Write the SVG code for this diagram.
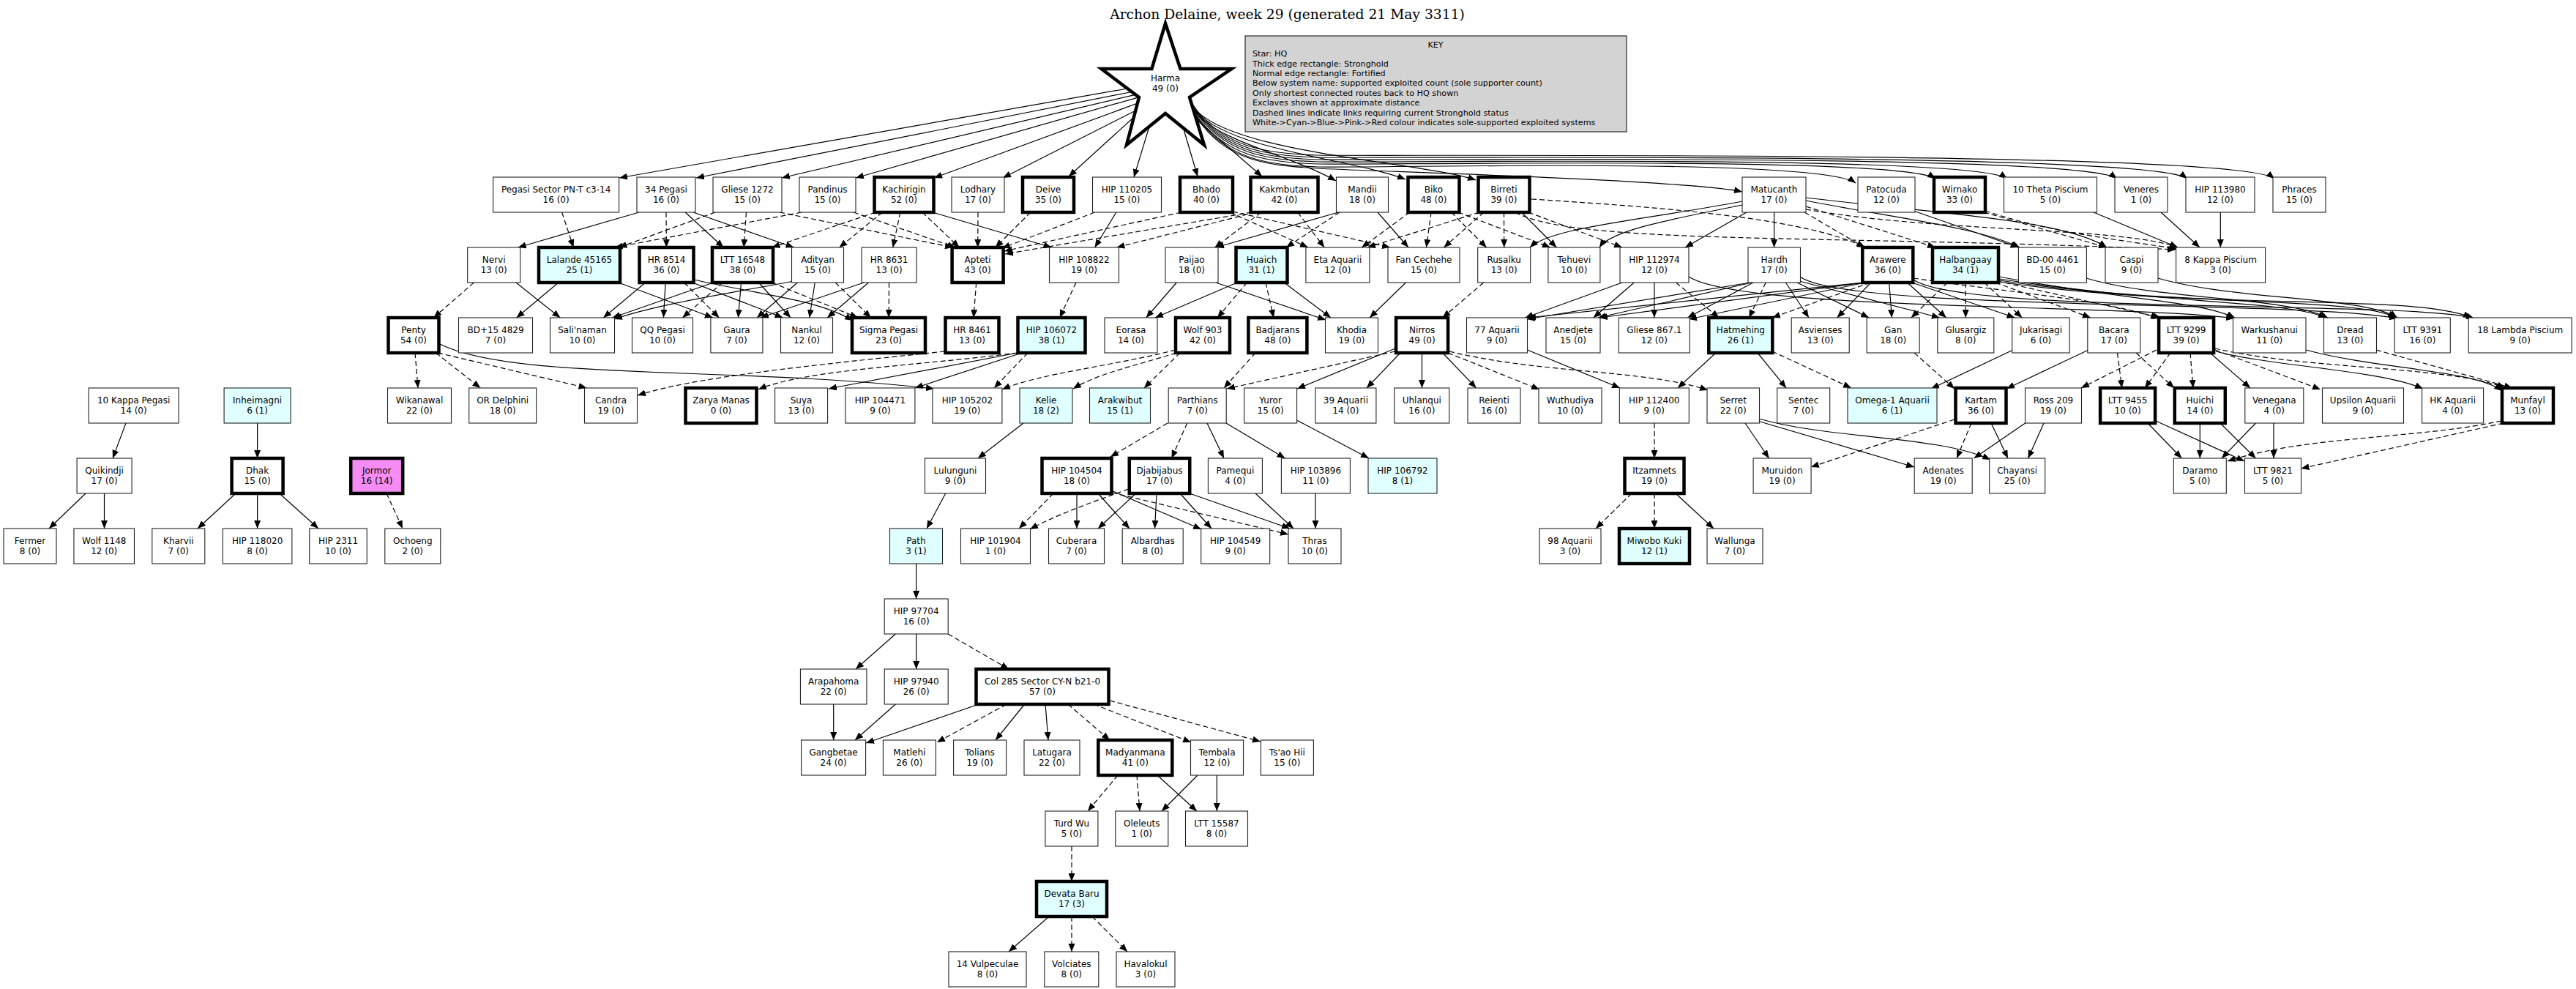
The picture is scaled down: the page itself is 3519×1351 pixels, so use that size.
<svg xmlns="http://www.w3.org/2000/svg" width="3519" height="1351" viewBox="0 0 3519 1351">
<style>
text{font-family:"DejaVu Sans","Liberation Sans",sans-serif;font-size:12px;text-anchor:middle;fill:#000}
.title{font-family:"DejaVu Serif","Liberation Serif",serif;font-size:18.7px}
.key{font-size:11.2px;text-anchor:start}
.n{fill:#fff;stroke:#222;stroke-width:1.1}
.t{fill:#fff;stroke:#000;stroke-width:4.5}
.c{fill:#e0ffff}
.p{fill:#f48cf4}
.e{fill:none;stroke:#000;stroke-width:1.2;marker-end:url(#a)}
.d{stroke-dasharray:7,4}
</style>
<defs>
<marker id="a" markerWidth="11" markerHeight="9" refX="11" refY="4.5" orient="auto" markerUnits="userSpaceOnUse"><path d="M0,0L11,4.5L0,9z" fill="#000"/></marker>
</defs>
<rect width="3519" height="1351" fill="#fff"/>
<text class="title" x="1758.5" y="26">Archon Delaine, week 29 (generated 21 May 3311)</text>
<g id="key">
<rect x="1701" y="49" width="521" height="131" fill="#d3d3d3" stroke="#000" stroke-width="1"/>
<text x="1961" y="65" style="font-size:11.2px">KEY</text>
<text class="key" x="1711" y="77.3">Star: HQ</text>
<text class="key" x="1711" y="90.7">Thick edge rectangle: Stronghold</text>
<text class="key" x="1711" y="104">Normal edge rectangle: Fortified</text>
<text class="key" x="1711" y="117.3">Below system name: supported exploited count (sole supporter count)</text>
<text class="key" x="1711" y="130.7">Only shortest connected routes back to HQ shown</text>
<text class="key" x="1711" y="144.3">Exclaves shown at approximate distance</text>
<text class="key" x="1711" y="157.7">Dashed lines indicate links requiring current Stronghold status</text>
<text class="key" x="1711" y="170.7">White-&gt;Cyan-&gt;Blue-&gt;Pink-&gt;Red colour indicates sole-supported exploited systems</text>
</g>
<g id="connectors">
<path class="e" d="M1540,121L846,243"/>
<path class="e" d="M1546,125.5L951,243"/>
<path class="e" d="M1551,129.3L1068,243"/>
<path class="e" d="M1555.5,132.8L1169,243"/>
<path class="e" d="M1554,141L1276,243"/>
<path class="e" d="M1551.5,151L1370,243"/>
<path class="e" d="M1549,160L1460,241"/>
<path class="e" d="M1570,172.8L1549,242"/>
<path class="e" d="M1616.5,175L1636,241"/>
<path class="e" d="M1634,163L1724,241"/>
<path class="e" d="M1630,150C1665,195 1760,210 1825,247"/>
<path class="e" d="M1629,146C1670,205 1840,215 1920,245"/>
<path class="e" d="M1628,143C1670,210 1940,220 2016,246"/>
<path class="e" d="M1636,162C1676,222 1736,226 1800,230S2300,245 2380,262"/>
<path class="e" d="M1634,158C1674,218 1734,226 1800,228S2485,214 2535,250"/>
<path class="e" d="M1632,154C1672,214 1732,222 1800,224S2594,212 2644,244"/>
<path class="e" d="M1631,150C1671,210 1731,219 1800,221S2692,210 2742,244"/>
<path class="e" d="M1630,147C1670,207 1730,216 1800,218S2842,208 2892,244"/>
<path class="e" d="M1629,144C1669,204 1729,213 1800,215S2938,206 2988,244"/>
<path class="e" d="M1628,141C1668,201 1728,210 1800,212S3057,204 3107,244"/>
<path class="e d" d="M767.6,290L783.5,338"/>
<path class="e" d="M873,290L707.7,338"/>
<path class="e d" d="M910,290L910.4,338"/>
<path class="e" d="M936.1,290L988.4,338"/>
<path class="e" d="M947,290L1084.5,338"/>
<path class="e d" d="M977,290L845.5,338"/>
<path class="e d" d="M1019.4,290L1016.1,338"/>
<path class="e d" d="M1065,290L1302,338"/>
<path class="e d" d="M1095,290L840,338"/>
<path class="e d" d="M1166,290L1305,338"/>
<path class="e d" d="M1196,290L1054.5,338"/>
<path class="e d" d="M1205.5,290L1146.5,338"/>
<path class="e d" d="M1229.9,290L1219.7,338"/>
<path class="e d" d="M1260,290L1310.5,338"/>
<path class="e" d="M1274,290L1436.5,338"/>
<path class="e d" d="M1336,290L1335.7,338"/>
<path class="e d" d="M1407.9,290L1359.7,338"/>
<path class="e d" d="M1495.5,290L1369,339"/>
<path class="e" d="M1524.9,290L1495.6,338"/>
<path class="e d" d="M1613.5,290L1372,343"/>
<path class="e d" d="M1710,290L1373,347"/>
<path class="e d" d="M1715,290L1525.5,338"/>
<path class="e d" d="M1722.9,290L1659.6,338"/>
<path class="e d" d="M1772.7,290L1809.2,338"/>
<path class="e d" d="M1680,290L1786.9,338"/>
<path class="e d" d="M1684,289L1899,338"/>
<path class="e" d="M1828.5,290L1661,338"/>
<path class="e d" d="M1830,290L1757,338"/>
<path class="e" d="M1882,290L1924,338"/>
<path class="e d" d="M1925.7,290L1860.2,338"/>
<path class="e d" d="M1955.1,290L1948.4,338"/>
<path class="e d" d="M1982.5,290L2030.7,338"/>
<path class="e d" d="M1992,290L2117.9,338"/>
<path class="e d" d="M2021,290L1867.9,338"/>
<path class="e d" d="M2027.1,290L1972.4,338"/>
<path class="e d" d="M2054.5,290L2054.7,338"/>
<path class="e" d="M2078.5,290L2126.4,338"/>
<path class="e d" d="M2088,290L2216,338"/>
<path class="e d" d="M2092,272C2300,285 2470,300 2548,338"/>
<path class="e d" d="M2070,290C2150,335 2500,320 2972,341"/>
<path class="e" d="M2380,275C2250,300 2120,310 2090,338"/>
<path class="e" d="M2380,280C2280,300 2200,315 2185,338"/>
<path class="e" d="M2386,290L2302,338"/>
<path class="e" d="M2423.6,290L2423.6,338"/>
<path class="e d" d="M2465,290L2547,338"/>
<path class="e d" d="M2467,282L2644,338"/>
<path class="e" d="M2467,274C2600,300 2700,310 2759,338"/>
<path class="e" d="M2467,270C2650,292 2820,300 2878,338"/>
<path class="e d" d="M2467,286C2650,318 2900,310 2975,338"/>
<path class="e" d="M2614,288L2757.5,338"/>
<path class="e d" d="M2712,288C2800,318 2900,328 2974,340"/>
<path class="e d" d="M2710,290L2878,338"/>
<path class="e" d="M2860,290L2975,338"/>
<path class="e" d="M2952,290L3005,338"/>
<path class="e" d="M3033.3,290L3033.3,338"/>
<path class="e d" d="M647.3,386L592.4,434"/>
<path class="e" d="M704.9,386L765.3,434"/>
<path class="e" d="M762.9,386L705.6,434"/>
<path class="e" d="M845,386L973.9,434"/>
<path class="e" d="M881.75,386L824.25,434"/>
<path class="e" d="M909.1,386L906.4,434"/>
<path class="e d" d="M934.5,386L982.4,434"/>
<path class="e" d="M946,386L1069.5,434"/>
<path class="e" d="M948,382C1050,405 1120,410 1165,438"/>
<path class="e" d="M974.5,386L836.5,434"/>
<path class="e d" d="M987.1,386L932.4,434"/>
<path class="e" d="M1012.5,386L1008.4,434"/>
<path class="e" d="M1036.4,386L1080.1,434"/>
<path class="e d" d="M1054.5,386L1172,434"/>
<path class="e" d="M1084.5,384C1000,400 900,415 839,436"/>
<path class="e" d="M1089.35,386L1034.05,434"/>
<path class="e" d="M1113.25,386L1105.75,434"/>
<path class="e d" d="M1141.25,386L1189.75,434"/>
<path class="e" d="M1180.1,386L1038.9,434"/>
<path class="e" d="M1186.45,386L1130.15,434"/>
<path class="e d" d="M1214.5,386L1214.2,434"/>
<path class="e d" d="M1333.7,386L1329.9,434"/>
<path class="e d" d="M1469.9,386L1447.6,434"/>
<path class="e" d="M1607.25,386L1565.75,434"/>
<path class="e" d="M1661,386L1811,437"/>
<path class="e" d="M1690,386L1578,434"/>
<path class="e d" d="M1703.4,386L1663.1,434"/>
<path class="e d" d="M1729,386L1739.9,434"/>
<path class="e" d="M1754.25,386L1818,434"/>
<path class="e" d="M1920.4,386L1871.1,434"/>
<path class="e d" d="M2026.7,386L1970.6,434"/>
<path class="e" d="M2216,386L2083.5,434"/>
<path class="e" d="M2232.25,386L2176.75,434"/>
<path class="e" d="M2260,386L2259.8,434"/>
<path class="e d" d="M2289.45,386L2348.35,434"/>
<path class="e" d="M2391,386L2086,436"/>
<path class="e" d="M2393,386L2183,434"/>
<path class="e" d="M2395,386L2305.3,434"/>
<path class="e d" d="M2412.2,386L2389.3,434"/>
<path class="e" d="M2439.45,386L2470.95,434"/>
<path class="e" d="M2455,386L2553.2,434"/>
<path class="e" d="M2458,384L2649.8,434"/>
<path class="e" d="M2459,378C2520,425 3150,410 3275,435"/>
<path class="e" d="M2545,386L2087,434"/>
<path class="e" d="M2546,386L2185,434"/>
<path class="e" d="M2548,386L2307,436"/>
<path class="e d" d="M2555,386L2421,434"/>
<path class="e" d="M2555.8,386L2509.7,434"/>
<path class="e" d="M2580.7,386L2584.4,434"/>
<path class="e" d="M2605.4,386L2658.7,434"/>
<path class="e" d="M2612,386L2752.5,434"/>
<path class="e d" d="M2614,380C2750,400 2880,410 2949,435"/>
<path class="e" d="M2614,382C2680,430 3300,410 3380,435"/>
<path class="e d" d="M2660.3,386L2610.9,434"/>
<path class="e d" d="M2685,386L2685.3,434"/>
<path class="e d" d="M2710.75,386L2762.25,434"/>
<path class="e d" d="M2726,386L2856,434"/>
<path class="e d" d="M2729,384L2952,434"/>
<path class="e" d="M2731,378C2900,410 3000,410 3053,434"/>
<path class="e" d="M2731,381C2950,415 3120,410 3178,434"/>
<path class="e" d="M2731,383C2980,420 3220,405 3273,434"/>
<path class="e" d="M2731,385C3000,425 3300,400 3376,434"/>
<path class="e" d="M2850,380C2950,410 3120,405 3180,434"/>
<path class="e" d="M2948,380C3050,410 3230,405 3275,434"/>
<path class="e" d="M2307,378C2380,425 2900,415 3052,435"/>
<path class="e d" d="M567,482L571,530"/>
<path class="e d" d="M595.4,482L656.3,530"/>
<path class="e d" d="M598,482L801.5,530"/>
<path class="e" d="M601,470C700,520 1000,500 1276,531"/>
<path class="e d" d="M1291,480C1100,500 950,515 871,540"/>
<path class="e d" d="M1390,482C1250,500 1100,505 1036,532"/>
<path class="e" d="M1390,482L1132,531"/>
<path class="e" d="M1396,482L1250,530"/>
<path class="e d" d="M1404,482L1358,530"/>
<path class="e d" d="M1606,478C1520,500 1420,510 1369,532"/>
<path class="e d" d="M1607,482C1550,500 1500,510 1466,531"/>
<path class="e d" d="M1612,482L1563,530"/>
<path class="e d" d="M1715,482L1672,530"/>
<path class="e d" d="M1906,480L1676,531"/>
<path class="e" d="M1906,476L1772,531"/>
<path class="e" d="M1913,482L1867,530"/>
<path class="e" d="M1942.5,482L1942.5,530"/>
<path class="e" d="M1970.7,482L2016.6,530"/>
<path class="e d" d="M1978,482L2103,532"/>
<path class="e d" d="M1980,480C2100,510 2250,505 2333,533"/>
<path class="e" d="M2086.5,478L2213,530"/>
<path class="e" d="M2344,482L2292,530"/>
<path class="e" d="M2401,482L2440,530"/>
<path class="e d" d="M2421,480L2529,530"/>
<path class="e d" d="M2615,482L2670,531"/>
<path class="e" d="M2750,478L2638,531"/>
<path class="e" d="M2853,478L2741,531"/>
<path class="e d" d="M2892.5,482L2898.7,530"/>
<path class="e d" d="M2918,482L2970,530"/>
<path class="e d" d="M2946,478L2843,530"/>
<path class="e d" d="M2965,482L2930,530"/>
<path class="e d" d="M2992,482L2996,530"/>
<path class="e" d="M3019,482L3074,530"/>
<path class="e d" d="M3026,478L3170,532"/>
<path class="e" d="M3027,480C3100,500 3250,505 3310,531"/>
<path class="e d" d="M3026,476C3150,505 3350,500 3422,530"/>
<path class="e" d="M3150,478C3250,505 3380,505 3418,534"/>
<path class="e d" d="M3246,478L3432,530"/>
<path class="e" d="M1398,578L1336,626"/>
<path class="e d" d="M1595,578L1517,624"/>
<path class="e d" d="M1621.7,578L1600.5,626"/>
<path class="e" d="M1649,578L1672,626"/>
<path class="e" d="M1675,578L1755.5,626"/>
<path class="e" d="M1771.5,574L1870,626"/>
<path class="e d" d="M2260,578L2260,626"/>
<path class="e" d="M2384,578L2416.6,626"/>
<path class="e" d="M2401,575L2615,638"/>
<path class="e" d="M2403,572C2500,600 2650,595 2719,628"/>
<path class="e d" d="M2670,573L2474,638"/>
<path class="e d" d="M2693,578L2673,626"/>
<path class="e" d="M2720,578L2743,626"/>
<path class="e" d="M2766.6,578L2696.6,626"/>
<path class="e" d="M2792,578L2770.5,626"/>
<path class="e" d="M2934,578L2980.4,626"/>
<path class="e" d="M2945,575L3066,630"/>
<path class="e" d="M3005.3,578L3005.3,626"/>
<path class="e" d="M3033,578L3081.5,626"/>
<path class="e" d="M3081.5,578L3035,626"/>
<path class="e" d="M3106,578L3106,626"/>
<path class="e d" d="M3417,575C3300,600 3150,595 3043,630"/>
<path class="e d" d="M3420,578L3143.5,640"/>
<path class="e" d="M172,578L154,626"/>
<path class="e" d="M351.6,578L351.6,626"/>
<path class="e" d="M117,674L67,722"/>
<path class="e" d="M142.5,674L142.5,722"/>
<path class="e" d="M322,674L270,722"/>
<path class="e" d="M351.6,674L351.6,722"/>
<path class="e" d="M381.7,674L435,722"/>
<path class="e d" d="M528,674L550,722"/>
<path class="e" d="M1291.7,674L1266,722"/>
<path class="e d" d="M1439,674L1392,722"/>
<path class="e" d="M1471,674L1471,722"/>
<path class="e" d="M1500,674L1543,722"/>
<path class="e" d="M1518,670L1641,723"/>
<path class="e d" d="M1519,673L1760,730"/>
<path class="e d" d="M1542,668C1480,690 1440,705 1407,723"/>
<path class="e" d="M1551.7,674L1500,722"/>
<path class="e" d="M1580,674L1577.5,722"/>
<path class="e" d="M1612,674L1655,722"/>
<path class="e" d="M1625,674L1762,722"/>
<path class="e" d="M1715,674L1767,722"/>
<path class="e" d="M1797,674L1797,722"/>
<path class="e d" d="M2229,674L2180,722"/>
<path class="e d" d="M2260,674L2260,722"/>
<path class="e" d="M2289,674L2341,722"/>
<path class="e" d="M1251.6,770L1251.6,818"/>
<path class="e" d="M1223.4,866L1169,914"/>
<path class="e" d="M1251.7,866L1251.7,914"/>
<path class="e d" d="M1295,866L1378,914"/>
<path class="e" d="M1138.7,962L1138.7,1011"/>
<path class="e" d="M1223.4,962L1168,1011"/>
<path class="e" d="M1337,962L1183,1015"/>
<path class="e d" d="M1375,962L1280,1014"/>
<path class="e" d="M1399.6,962L1360,1011"/>
<path class="e" d="M1428,962L1432,1011"/>
<path class="e d" d="M1459,962L1516,1011"/>
<path class="e d" d="M1494,962L1627,1014"/>
<path class="e d" d="M1516,957L1722,1013"/>
<path class="e d" d="M1527,1059L1486,1108"/>
<path class="e d" d="M1553,1059L1557,1108"/>
<path class="e" d="M1581,1059L1635,1108"/>
<path class="e" d="M1636,1059L1587,1108"/>
<path class="e" d="M1662.3,1059L1662.3,1108"/>
<path class="e d" d="M1464,1156L1464,1204"/>
<path class="e" d="M1433,1252L1378,1300"/>
<path class="e d" d="M1464,1252L1464,1300"/>
<path class="e d" d="M1492,1252L1540,1300"/>
</g>
<g id="n-harma"><polygon points="1592,32 1612.5,94 1682.5,94 1625,133 1645,198 1592,155 1539,198 1556,133 1504.5,94 1573.4,94" fill="#fff" stroke="#000" stroke-width="4.5" stroke-linejoin="miter"/><text x="1592" y="111">Harma</text><text x="1592" y="125">49 (0)</text></g>
<g id="n-pegasi"><rect class="n" x="673.6" y="242" width="172" height="48"/><text x="759.6" y="262.5">Pegasi Sector PN-T c3-14</text><text x="759.6" y="276.5">16 (0)</text></g>
<g id="n-34peg"><rect class="n" x="870" y="242" width="80" height="48"/><text x="910" y="262.5">34 Pegasi</text><text x="910" y="276.5">16 (0)</text></g>
<g id="n-gl1272"><rect class="n" x="974" y="242" width="94" height="48"/><text x="1021" y="262.5">Gliese 1272</text><text x="1021" y="276.5">15 (0)</text></g>
<g id="n-pandinus"><rect class="n" x="1092" y="242" width="77" height="48"/><text x="1130.5" y="262.5">Pandinus</text><text x="1130.5" y="276.5">15 (0)</text></g>
<g id="n-kachirigin"><rect class="t" x="1194.5" y="242" width="81" height="48"/><text x="1235" y="262.5">Kachirigin</text><text x="1235" y="276.5">52 (0)</text></g>
<g id="n-lodhary"><rect class="n" x="1300" y="242" width="72" height="48"/><text x="1336" y="262.5">Lodhary</text><text x="1336" y="276.5">17 (0)</text></g>
<g id="n-deive"><rect class="t" x="1397" y="242" width="70" height="48"/><text x="1432" y="262.5">Deive</text><text x="1432" y="276.5">35 (0)</text></g>
<g id="n-hip110205"><rect class="n" x="1492.5" y="242" width="94" height="48"/><text x="1539.5" y="262.5">HIP 110205</text><text x="1539.5" y="276.5">15 (0)</text></g>
<g id="n-bhado"><rect class="t" x="1612" y="242" width="72" height="48"/><text x="1648" y="262.5">Bhado</text><text x="1648" y="276.5">40 (0)</text></g>
<g id="n-kakmbutan"><rect class="t" x="1708.5" y="242" width="92" height="48"/><text x="1754.5" y="262.5">Kakmbutan</text><text x="1754.5" y="276.5">42 (0)</text></g>
<g id="n-mandii"><rect class="n" x="1825.5" y="242" width="71" height="48"/><text x="1861" y="262.5">Mandii</text><text x="1861" y="276.5">18 (0)</text></g>
<g id="n-biko"><rect class="t" x="1923.5" y="242" width="70" height="48"/><text x="1958.5" y="262.5">Biko</text><text x="1958.5" y="276.5">48 (0)</text></g>
<g id="n-birreti"><rect class="t" x="2019.5" y="242" width="70" height="48"/><text x="2054.5" y="262.5">Birreti</text><text x="2054.5" y="276.5">39 (0)</text></g>
<g id="n-matucanth"><rect class="n" x="2380" y="242" width="87" height="48"/><text x="2423.5" y="262.5">Matucanth</text><text x="2423.5" y="276.5">17 (0)</text></g>
<g id="n-patocuda"><rect class="n" x="2538" y="242" width="78" height="48"/><text x="2577" y="262.5">Patocuda</text><text x="2577" y="276.5">12 (0)</text></g>
<g id="n-wirnako"><rect class="t" x="2642" y="242" width="70" height="48"/><text x="2677" y="262.5">Wirnako</text><text x="2677" y="276.5">33 (0)</text></g>
<g id="n-10theta"><rect class="n" x="2737.5" y="242" width="127" height="48"/><text x="2801" y="262.5">10 Theta Piscium</text><text x="2801" y="276.5">5 (0)</text></g>
<g id="n-veneres"><rect class="n" x="2889" y="242" width="72" height="48"/><text x="2925" y="262.5">Veneres</text><text x="2925" y="276.5">1 (0)</text></g>
<g id="n-hip113980"><rect class="n" x="2986" y="242" width="94" height="48"/><text x="3033" y="262.5">HIP 113980</text><text x="3033" y="276.5">12 (0)</text></g>
<g id="n-phraces"><rect class="n" x="3105" y="242" width="72" height="48"/><text x="3141" y="262.5">Phraces</text><text x="3141" y="276.5">15 (0)</text></g>
<g id="n-nervi"><rect class="n" x="638.7" y="338" width="72" height="48"/><text x="674.7" y="358.5">Nervi</text><text x="674.7" y="372.5">13 (0)</text></g>
<g id="n-lalande"><rect class="t c" x="736" y="338" width="111" height="48"/><text x="791.5" y="358.5">Lalande 45165</text><text x="791.5" y="372.5">25 (1)</text></g>
<g id="n-hr8514"><rect class="t" x="873.5" y="338" width="74" height="48"/><text x="910.5" y="358.5">HR 8514</text><text x="910.5" y="372.5">36 (0)</text></g>
<g id="n-ltt16548"><rect class="t" x="973" y="338" width="83" height="48"/><text x="1014.5" y="358.5">LTT 16548</text><text x="1014.5" y="372.5">38 (0)</text></g>
<g id="n-adityan"><rect class="n" x="1081.5" y="338" width="71" height="48"/><text x="1117" y="358.5">Adityan</text><text x="1117" y="372.5">15 (0)</text></g>
<g id="n-hr8631"><rect class="n" x="1177.1" y="338" width="75" height="48"/><text x="1214.6" y="358.5">HR 8631</text><text x="1214.6" y="372.5">13 (0)</text></g>
<g id="n-apteti"><rect class="t" x="1300.6" y="338" width="70" height="48"/><text x="1335.6" y="358.5">Apteti</text><text x="1335.6" y="372.5">43 (0)</text></g>
<g id="n-hip108822"><rect class="n" x="1433.5" y="338" width="95" height="48"/><text x="1481" y="358.5">HIP 108822</text><text x="1481" y="372.5">19 (0)</text></g>
<g id="n-paijao"><rect class="n" x="1592" y="338" width="72" height="48"/><text x="1628" y="358.5">Paijao</text><text x="1628" y="372.5">18 (0)</text></g>
<g id="n-huaich"><rect class="t c" x="1688.5" y="338" width="70" height="48"/><text x="1723.5" y="358.5">Huaich</text><text x="1723.5" y="372.5">31 (1)</text></g>
<g id="n-eta"><rect class="n" x="1783.9" y="338" width="87" height="48"/><text x="1827.4" y="358.5">Eta Aquarii</text><text x="1827.4" y="372.5">12 (0)</text></g>
<g id="n-fan"><rect class="n" x="1896" y="338" width="98" height="48"/><text x="1945" y="358.5">Fan Cechehe</text><text x="1945" y="372.5">15 (0)</text></g>
<g id="n-rusalku"><rect class="n" x="2018.7" y="338" width="72" height="48"/><text x="2054.7" y="358.5">Rusalku</text><text x="2054.7" y="372.5">13 (0)</text></g>
<g id="n-tehuevi"><rect class="n" x="2114.9" y="338" width="71" height="48"/><text x="2150.4" y="358.5">Tehuevi</text><text x="2150.4" y="372.5">10 (0)</text></g>
<g id="n-hip112974"><rect class="n" x="2213" y="338" width="94" height="48"/><text x="2260" y="358.5">HIP 112974</text><text x="2260" y="372.5">12 (0)</text></g>
<g id="n-hardh"><rect class="n" x="2388" y="338" width="71.5" height="48"/><text x="2423.7" y="358.5">Hardh</text><text x="2423.7" y="372.5">17 (0)</text></g>
<g id="n-arawere"><rect class="t" x="2544.3" y="338" width="69" height="48"/><text x="2578.8" y="358.5">Arawere</text><text x="2578.8" y="372.5">36 (0)</text></g>
<g id="n-halbangaay"><rect class="t c" x="2640" y="338" width="90" height="48"/><text x="2685" y="358.5">Halbangaay</text><text x="2685" y="372.5">34 (1)</text></g>
<g id="n-bd00"><rect class="n" x="2757.4" y="338" width="93" height="48"/><text x="2803.9" y="358.5">BD-00 4461</text><text x="2803.9" y="372.5">15 (0)</text></g>
<g id="n-caspi"><rect class="n" x="2876" y="338" width="72" height="48"/><text x="2912" y="358.5">Caspi</text><text x="2912" y="372.5">9 (0)</text></g>
<g id="n-8kappa"><rect class="n" x="2972.6" y="338" width="122" height="48"/><text x="3033.6" y="358.5">8 Kappa Piscium</text><text x="3033.6" y="372.5">3 (0)</text></g>
<g id="n-penty"><rect class="t" x="530.5" y="434" width="69" height="48"/><text x="565" y="454.5">Penty</text><text x="565" y="468.5">54 (0)</text></g>
<g id="n-bd15"><rect class="n" x="626.5" y="434" width="101" height="48"/><text x="677" y="454.5">BD+15 4829</text><text x="677" y="468.5">7 (0)</text></g>
<g id="n-salinaman"><rect class="n" x="751.5" y="434" width="88" height="48"/><text x="795.5" y="454.5">Sali'naman</text><text x="795.5" y="468.5">10 (0)</text></g>
<g id="n-qqpeg"><rect class="n" x="863.5" y="434" width="83" height="48"/><text x="905" y="454.5">QQ Pegasi</text><text x="905" y="468.5">10 (0)</text></g>
<g id="n-gaura"><rect class="n" x="970.9" y="434" width="71" height="48"/><text x="1006.4" y="454.5">Gaura</text><text x="1006.4" y="468.5">7 (0)</text></g>
<g id="n-nankul"><rect class="n" x="1066.5" y="434" width="71" height="48"/><text x="1102" y="454.5">Nankul</text><text x="1102" y="468.5">12 (0)</text></g>
<g id="n-sigmapeg"><rect class="t" x="1164" y="434" width="100" height="48"/><text x="1214" y="454.5">Sigma Pegasi</text><text x="1214" y="468.5">23 (0)</text></g>
<g id="n-hr8461"><rect class="t" x="1291.5" y="434" width="73" height="48"/><text x="1328" y="454.5">HR 8461</text><text x="1328" y="468.5">13 (0)</text></g>
<g id="n-hip106072"><rect class="t c" x="1390.5" y="434" width="92" height="48"/><text x="1436.5" y="454.5">HIP 106072</text><text x="1436.5" y="468.5">38 (1)</text></g>
<g id="n-eorasa"><rect class="n" x="1509" y="434" width="72" height="48"/><text x="1545" y="454.5">Eorasa</text><text x="1545" y="468.5">14 (0)</text></g>
<g id="n-wolf903"><rect class="t" x="1606" y="434" width="74" height="48"/><text x="1643" y="454.5">Wolf 903</text><text x="1643" y="468.5">42 (0)</text></g>
<g id="n-badjarans"><rect class="t" x="1705.4" y="434" width="80" height="48"/><text x="1745.4" y="454.5">Badjarans</text><text x="1745.4" y="468.5">48 (0)</text></g>
<g id="n-khodia"><rect class="n" x="1810.5" y="434" width="72" height="48"/><text x="1846.5" y="454.5">Khodia</text><text x="1846.5" y="468.5">19 (0)</text></g>
<g id="n-nirros"><rect class="t" x="1907.1" y="434" width="71" height="48"/><text x="1942.6" y="454.5">Nirros</text><text x="1942.6" y="468.5">49 (0)</text></g>
<g id="n-77aq"><rect class="n" x="2003.5" y="434" width="83" height="48"/><text x="2045" y="454.5">77 Aquarii</text><text x="2045" y="468.5">9 (0)</text></g>
<g id="n-anedjete"><rect class="n" x="2112" y="434" width="74" height="48"/><text x="2149" y="454.5">Anedjete</text><text x="2149" y="468.5">15 (0)</text></g>
<g id="n-gl867"><rect class="n" x="2211.3" y="434" width="97" height="48"/><text x="2259.8" y="454.5">Gliese 867.1</text><text x="2259.8" y="468.5">12 (0)</text></g>
<g id="n-hatmehing"><rect class="t c" x="2334.3" y="434" width="87" height="48"/><text x="2377.8" y="454.5">Hatmehing</text><text x="2377.8" y="468.5">26 (1)</text></g>
<g id="n-asvienses"><rect class="n" x="2447.2" y="434" width="79" height="48"/><text x="2486.7" y="454.5">Asvienses</text><text x="2486.7" y="468.5">13 (0)</text></g>
<g id="n-gan"><rect class="n" x="2550.2" y="434" width="72" height="48"/><text x="2586.2" y="454.5">Gan</text><text x="2586.2" y="468.5">18 (0)</text></g>
<g id="n-glusargiz"><rect class="n" x="2646.8" y="434" width="77" height="48"/><text x="2685.3" y="454.5">Glusargiz</text><text x="2685.3" y="468.5">8 (0)</text></g>
<g id="n-jukarisagi"><rect class="n" x="2748.7" y="434" width="78.5" height="48"/><text x="2788" y="454.5">Jukarisagi</text><text x="2788" y="468.5">6 (0)</text></g>
<g id="n-bacara"><rect class="n" x="2851.8" y="434" width="72" height="48"/><text x="2887.8" y="454.5">Bacara</text><text x="2887.8" y="468.5">17 (0)</text></g>
<g id="n-ltt9299"><rect class="t" x="2949.1" y="434" width="75" height="48"/><text x="2986.6" y="454.5">LTT 9299</text><text x="2986.6" y="468.5">39 (0)</text></g>
<g id="n-warkushanui"><rect class="n" x="3050.5" y="434" width="99.5" height="48"/><text x="3100.2" y="454.5">Warkushanui</text><text x="3100.2" y="468.5">11 (0)</text></g>
<g id="n-dread"><rect class="n" x="3174.5" y="434" width="72" height="48"/><text x="3210.5" y="454.5">Dread</text><text x="3210.5" y="468.5">13 (0)</text></g>
<g id="n-ltt9391"><rect class="n" x="3271.3" y="434" width="76" height="48"/><text x="3309.3" y="454.5">LTT 9391</text><text x="3309.3" y="468.5">16 (0)</text></g>
<g id="n-18lambda"><rect class="n" x="3372.2" y="434" width="141" height="48"/><text x="3442.7" y="454.5">18 Lambda Piscium</text><text x="3442.7" y="468.5">9 (0)</text></g>
<g id="n-10kappa"><rect class="n" x="121.1" y="530" width="123" height="48"/><text x="182.6" y="550.5">10 Kappa Pegasi</text><text x="182.6" y="564.5">14 (0)</text></g>
<g id="n-inheimagni"><rect class="n c" x="306.1" y="530" width="91" height="48"/><text x="351.6" y="550.5">Inheimagni</text><text x="351.6" y="564.5">6 (1)</text></g>
<g id="n-wikanawal"><rect class="n" x="529.5" y="530" width="87" height="48"/><text x="573" y="550.5">Wikanawal</text><text x="573" y="564.5">22 (0)</text></g>
<g id="n-ordelphini"><rect class="n" x="640.7" y="530" width="92" height="48"/><text x="686.7" y="550.5">OR Delphini</text><text x="686.7" y="564.5">18 (0)</text></g>
<g id="n-candra"><rect class="n" x="798.5" y="530" width="72" height="48"/><text x="834.5" y="550.5">Candra</text><text x="834.5" y="564.5">19 (0)</text></g>
<g id="n-zarya"><rect class="t" x="936.5" y="530" width="97" height="48"/><text x="985" y="550.5">Zarya Manas</text><text x="985" y="564.5">0 (0)</text></g>
<g id="n-suya"><rect class="n" x="1058.6" y="530" width="72" height="48"/><text x="1094.6" y="550.5">Suya</text><text x="1094.6" y="564.5">13 (0)</text></g>
<g id="n-hip104471"><rect class="n" x="1154.9" y="530" width="95" height="48"/><text x="1202.4" y="550.5">HIP 104471</text><text x="1202.4" y="564.5">9 (0)</text></g>
<g id="n-hip105202"><rect class="n" x="1273.9" y="530" width="95" height="48"/><text x="1321.4" y="550.5">HIP 105202</text><text x="1321.4" y="564.5">19 (0)</text></g>
<g id="n-kelie"><rect class="n c" x="1393" y="530" width="72" height="48"/><text x="1429" y="550.5">Kelie</text><text x="1429" y="564.5">18 (2)</text></g>
<g id="n-arakwibut"><rect class="n c" x="1488.5" y="530" width="83" height="48"/><text x="1530" y="550.5">Arakwibut</text><text x="1530" y="564.5">15 (1)</text></g>
<g id="n-parthians"><rect class="n" x="1596.2" y="530" width="79" height="48"/><text x="1635.7" y="550.5">Parthians</text><text x="1635.7" y="564.5">7 (0)</text></g>
<g id="n-yuror"><rect class="n" x="1699.6" y="530" width="72" height="48"/><text x="1735.6" y="550.5">Yuror</text><text x="1735.6" y="564.5">15 (0)</text></g>
<g id="n-39aq"><rect class="n" x="1796.9" y="530" width="83" height="48"/><text x="1838.4" y="550.5">39 Aquarii</text><text x="1838.4" y="564.5">14 (0)</text></g>
<g id="n-uhlanqui"><rect class="n" x="1904.8" y="530" width="75" height="48"/><text x="1942.3" y="550.5">Uhlanqui</text><text x="1942.3" y="564.5">16 (0)</text></g>
<g id="n-reienti"><rect class="n" x="2005" y="530" width="72" height="48"/><text x="2041" y="550.5">Reienti</text><text x="2041" y="564.5">16 (0)</text></g>
<g id="n-wuthudiya"><rect class="n" x="2102" y="530" width="86" height="48"/><text x="2145" y="550.5">Wuthudiya</text><text x="2145" y="564.5">10 (0)</text></g>
<g id="n-hip112400"><rect class="n" x="2212.3" y="530" width="95" height="48"/><text x="2259.8" y="550.5">HIP 112400</text><text x="2259.8" y="564.5">9 (0)</text></g>
<g id="n-serret"><rect class="n" x="2332" y="530" width="71.5" height="48"/><text x="2367.7" y="550.5">Serret</text><text x="2367.7" y="564.5">22 (0)</text></g>
<g id="n-sentec"><rect class="n" x="2427.7" y="530" width="72" height="48"/><text x="2463.7" y="550.5">Sentec</text><text x="2463.7" y="564.5">7 (0)</text></g>
<g id="n-omega1"><rect class="n c" x="2524" y="530" width="122" height="48"/><text x="2585" y="550.5">Omega-1 Aquarii</text><text x="2585" y="564.5">6 (1)</text></g>
<g id="n-kartam"><rect class="t" x="2671.5" y="530" width="69" height="48"/><text x="2706" y="550.5">Kartam</text><text x="2706" y="564.5">36 (0)</text></g>
<g id="n-ross209"><rect class="n" x="2766.5" y="530" width="77" height="48"/><text x="2805" y="550.5">Ross 209</text><text x="2805" y="564.5">19 (0)</text></g>
<g id="n-ltt9455"><rect class="t" x="2869.1" y="530" width="75" height="48"/><text x="2906.6" y="550.5">LTT 9455</text><text x="2906.6" y="564.5">10 (0)</text></g>
<g id="n-huichi"><rect class="t" x="2970.8" y="530" width="69" height="48"/><text x="3005.3" y="550.5">Huichi</text><text x="3005.3" y="564.5">14 (0)</text></g>
<g id="n-venegana"><rect class="n" x="3066.8" y="530" width="80" height="48"/><text x="3106.8" y="550.5">Venegana</text><text x="3106.8" y="564.5">4 (0)</text></g>
<g id="n-upsilon"><rect class="n" x="3172.5" y="530" width="111" height="48"/><text x="3228" y="550.5">Upsilon Aquarii</text><text x="3228" y="564.5">9 (0)</text></g>
<g id="n-hkaq"><rect class="n" x="3308.6" y="530" width="84" height="48"/><text x="3350.6" y="550.5">HK Aquarii</text><text x="3350.6" y="564.5">4 (0)</text></g>
<g id="n-munfayl"><rect class="t" x="3418" y="530" width="70" height="48"/><text x="3453" y="550.5">Munfayl</text><text x="3453" y="564.5">13 (0)</text></g>
<g id="n-quikindji"><rect class="n" x="105.1" y="626" width="75" height="48"/><text x="142.6" y="646.5">Quikindji</text><text x="142.6" y="660.5">17 (0)</text></g>
<g id="n-dhak"><rect class="t" x="316.6" y="626" width="70" height="48"/><text x="351.6" y="646.5">Dhak</text><text x="351.6" y="660.5">15 (0)</text></g>
<g id="n-jormor"><rect class="t p" x="479.2" y="626" width="71" height="48"/><text x="514.7" y="646.5">Jormor</text><text x="514.7" y="660.5">16 (14)</text></g>
<g id="n-lulunguni"><rect class="n" x="1263.5" y="626" width="83" height="48"/><text x="1305" y="646.5">Lulunguni</text><text x="1305" y="660.5">9 (0)</text></g>
<g id="n-hip104504"><rect class="t" x="1423.5" y="626" width="95" height="48"/><text x="1471" y="646.5">HIP 104504</text><text x="1471" y="660.5">18 (0)</text></g>
<g id="n-djabijabus"><rect class="t" x="1542.75" y="626" width="82.5" height="48"/><text x="1584" y="646.5">Djabijabus</text><text x="1584" y="660.5">17 (0)</text></g>
<g id="n-pamequi"><rect class="n" x="1650.4" y="626" width="74" height="48"/><text x="1687.4" y="646.5">Pamequi</text><text x="1687.4" y="660.5">4 (0)</text></g>
<g id="n-hip103896"><rect class="n" x="1750.4" y="626" width="94" height="48"/><text x="1797.4" y="646.5">HIP 103896</text><text x="1797.4" y="660.5">11 (0)</text></g>
<g id="n-hip106792"><rect class="n c" x="1869" y="626" width="94" height="48"/><text x="1916" y="646.5">HIP 106792</text><text x="1916" y="660.5">8 (1)</text></g>
<g id="n-itzamnets"><rect class="t" x="2219.5" y="626" width="81" height="48"/><text x="2260" y="646.5">Itzamnets</text><text x="2260" y="660.5">19 (0)</text></g>
<g id="n-muruidon"><rect class="n" x="2395.1" y="626" width="79" height="48"/><text x="2434.6" y="646.5">Muruidon</text><text x="2434.6" y="660.5">19 (0)</text></g>
<g id="n-adenates"><rect class="n" x="2615.2" y="626" width="79" height="48"/><text x="2654.7" y="646.5">Adenates</text><text x="2654.7" y="660.5">19 (0)</text></g>
<g id="n-chayansi"><rect class="n" x="2717.7" y="626" width="76" height="48"/><text x="2755.7" y="646.5">Chayansi</text><text x="2755.7" y="660.5">25 (0)</text></g>
<g id="n-daramo"><rect class="n" x="2969.3" y="626" width="72" height="48"/><text x="3005.3" y="646.5">Daramo</text><text x="3005.3" y="660.5">5 (0)</text></g>
<g id="n-ltt9821"><rect class="n" x="3066.5" y="626" width="77" height="48"/><text x="3105" y="646.5">LTT 9821</text><text x="3105" y="660.5">5 (0)</text></g>
<g id="n-fermer"><rect class="n" x="5" y="722" width="72" height="48"/><text x="41" y="742.5">Fermer</text><text x="41" y="756.5">8 (0)</text></g>
<g id="n-wolf1148"><rect class="n" x="100.95" y="722" width="82.5" height="48"/><text x="142.2" y="742.5">Wolf 1148</text><text x="142.2" y="756.5">12 (0)</text></g>
<g id="n-kharvii"><rect class="n" x="207.8" y="722" width="72" height="48"/><text x="243.8" y="742.5">Kharvii</text><text x="243.8" y="756.5">7 (0)</text></g>
<g id="n-hip118020"><rect class="n" x="304.35" y="722" width="94.5" height="48"/><text x="351.6" y="742.5">HIP 118020</text><text x="351.6" y="756.5">8 (0)</text></g>
<g id="n-hip2311"><rect class="n" x="422.75" y="722" width="78.5" height="48"/><text x="462" y="742.5">HIP 2311</text><text x="462" y="756.5">10 (0)</text></g>
<g id="n-ochoeng"><rect class="n" x="525.8" y="722" width="76" height="48"/><text x="563.8" y="742.5">Ochoeng</text><text x="563.8" y="756.5">2 (0)</text></g>
<g id="n-path"><rect class="n c" x="1215.5" y="722" width="72" height="48"/><text x="1251.5" y="742.5">Path</text><text x="1251.5" y="756.5">3 (1)</text></g>
<g id="n-hip101904"><rect class="n" x="1312.5" y="722" width="95" height="48"/><text x="1360" y="742.5">HIP 101904</text><text x="1360" y="756.5">1 (0)</text></g>
<g id="n-cuberara"><rect class="n" x="1432.5" y="722" width="76" height="48"/><text x="1470.5" y="742.5">Cuberara</text><text x="1470.5" y="756.5">7 (0)</text></g>
<g id="n-albardhas"><rect class="n" x="1533.2" y="722" width="83" height="48"/><text x="1574.7" y="742.5">Albardhas</text><text x="1574.7" y="756.5">8 (0)</text></g>
<g id="n-hip104549"><rect class="n" x="1640.7" y="722" width="94" height="48"/><text x="1687.7" y="742.5">HIP 104549</text><text x="1687.7" y="756.5">9 (0)</text></g>
<g id="n-thras"><rect class="n" x="1760" y="722" width="72" height="48"/><text x="1796" y="742.5">Thras</text><text x="1796" y="756.5">10 (0)</text></g>
<g id="n-98aq"><rect class="n" x="2103" y="722" width="84" height="48"/><text x="2145" y="742.5">98 Aquarii</text><text x="2145" y="756.5">3 (0)</text></g>
<g id="n-miwobo"><rect class="t c" x="2212" y="722" width="96" height="48"/><text x="2260" y="742.5">Miwobo Kuki</text><text x="2260" y="756.5">12 (1)</text></g>
<g id="n-wallunga"><rect class="n" x="2332" y="722" width="76" height="48"/><text x="2370" y="742.5">Wallunga</text><text x="2370" y="756.5">7 (0)</text></g>
<g id="n-hip97704"><rect class="n" x="1208.2" y="818" width="87" height="48"/><text x="1251.7" y="838.5">HIP 97704</text><text x="1251.7" y="852.5">16 (0)</text></g>
<g id="n-arapahoma"><rect class="n" x="1093.45" y="914" width="90.5" height="48"/><text x="1138.7" y="934.5">Arapahoma</text><text x="1138.7" y="948.5">22 (0)</text></g>
<g id="n-hip97940"><rect class="n" x="1208.2" y="914" width="87" height="48"/><text x="1251.7" y="934.5">HIP 97940</text><text x="1251.7" y="948.5">26 (0)</text></g>
<g id="n-col285"><rect class="t" x="1333.5" y="914" width="181" height="48"/><text x="1424" y="934.5">Col 285 Sector CY-N b21-0</text><text x="1424" y="948.5">57 (0)</text></g>
<g id="n-gangbetae"><rect class="n" x="1094.6" y="1011" width="88" height="48"/><text x="1138.6" y="1031.5">Gangbetae</text><text x="1138.6" y="1045.5">24 (0)</text></g>
<g id="n-matlehi"><rect class="n" x="1206.4" y="1011" width="72" height="48"/><text x="1242.4" y="1031.5">Matlehi</text><text x="1242.4" y="1045.5">26 (0)</text></g>
<g id="n-tolians"><rect class="n" x="1302.6" y="1011" width="72" height="48"/><text x="1338.6" y="1031.5">Tolians</text><text x="1338.6" y="1045.5">19 (0)</text></g>
<g id="n-latugara"><rect class="n" x="1399" y="1011" width="76" height="48"/><text x="1437" y="1031.5">Latugara</text><text x="1437" y="1045.5">22 (0)</text></g>
<g id="n-madyanmana"><rect class="t" x="1500.3" y="1011" width="101" height="48"/><text x="1550.8" y="1031.5">Madyanmana</text><text x="1550.8" y="1045.5">41 (0)</text></g>
<g id="n-tembala"><rect class="n" x="1626.5" y="1011" width="72" height="48"/><text x="1662.5" y="1031.5">Tembala</text><text x="1662.5" y="1045.5">12 (0)</text></g>
<g id="n-tsaohii"><rect class="n" x="1722.4" y="1011" width="72" height="48"/><text x="1758.4" y="1031.5">Ts'ao Hii</text><text x="1758.4" y="1045.5">15 (0)</text></g>
<g id="n-turdwu"><rect class="n" x="1427.9" y="1108" width="72" height="48"/><text x="1463.9" y="1128.5">Turd Wu</text><text x="1463.9" y="1142.5">5 (0)</text></g>
<g id="n-oleleuts"><rect class="n" x="1523.8" y="1108" width="72" height="48"/><text x="1559.8" y="1128.5">Oleleuts</text><text x="1559.8" y="1142.5">1 (0)</text></g>
<g id="n-ltt15587"><rect class="n" x="1619.5" y="1108" width="85" height="48"/><text x="1662" y="1128.5">LTT 15587</text><text x="1662" y="1142.5">8 (0)</text></g>
<g id="n-devata"><rect class="t c" x="1416" y="1204" width="96" height="48"/><text x="1464" y="1224.5">Devata Baru</text><text x="1464" y="1238.5">17 (3)</text></g>
<g id="n-14vul"><rect class="n" x="1296" y="1300" width="106" height="48"/><text x="1349" y="1320.5">14 Vulpeculae</text><text x="1349" y="1334.5">8 (0)</text></g>
<g id="n-volciates"><rect class="n" x="1426.8" y="1300" width="74" height="48"/><text x="1463.8" y="1320.5">Volciates</text><text x="1463.8" y="1334.5">8 (0)</text></g>
<g id="n-havalokul"><rect class="n" x="1525" y="1300" width="80" height="48"/><text x="1565" y="1320.5">Havalokul</text><text x="1565" y="1334.5">3 (0)</text></g>
</svg>
